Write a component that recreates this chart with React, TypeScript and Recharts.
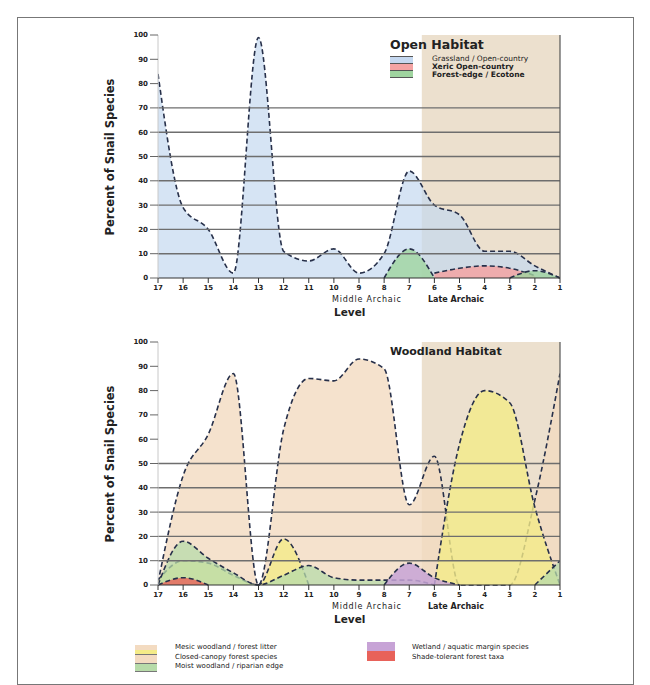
import React from 'react';
import { ComposedChart, Area, XAxis, YAxis, ReferenceArea, ReferenceLine } from 'recharts';

const levels = [17, 16, 15, 14, 13, 12, 11, 10, 9, 8, 7, 6, 5, 4, 3, 2, 1];
const yTicks = [0, 10, 20, 30, 40, 50, 60, 70, 80, 90, 100];

// Open habitat series (levels 17 -> 1)
const openGrassland = [84, 29, 20, 2, 99, 11, 7, 12, 2, 10, 44, 30, 26, 11, 11, 5, 0];
const openXeric = [null, null, null, null, null, null, null, null, null, null, null, 2, 4, 5, 4, 1, null];
const openEdge = [null, null, null, null, null, null, null, null, null, 0, 12, 0, null, null, 0, 3, 0];

// Woodland habitat series (levels 17 -> 1)
const woodTan = [1, 45, 62, 87, 0, 64, 85, 84, 93, 89, 33, 53, 0, 0, 0, 35, 87];
const woodYellow = [2, 10, 9, 4, 0, 19, 0, null, null, null, null, 0, 58, 80, 75, 32, 0];
const woodGreen = [0, 18, 11, 5, 0, 4, 8, 3, 2, 2, 2, 0, null, null, null, 0, 10];
const woodPurple = [null, null, null, null, null, null, null, null, null, 0, 9, 3, 0, null, null, null, null];
const woodRed = [0, 3, 0, null, null, null, null, null, null, null, null, null, null, null, null, null, null];

const openGrid = [10, 20, 30, 40, 50, 60, 70];
const woodGrid = [10, 20, 30, 40, 50];

const openData = levels.map((lv, i) => ({ level: lv, grass: openGrassland[i], xeric: openXeric[i], edge: openEdge[i] }));
const woodData = levels.map((lv, i) => ({
  level: lv, tan: woodTan[i], yellow: woodYellow[i], green: woodGreen[i], purple: woodPurple[i], red: woodRed[i],
}));

const STROKE = '#27304a';
const DASH = '5 3';
const FONT = 'DejaVu Sans, Arial, sans-serif';

const tickStyle = { fontSize: 7, fill: '#222', fontFamily: FONT, fontWeight: 700 };

function Panel({ data, series, grid }: { data: any[]; series: { key: string; fill: string; op: number }[]; grid: number[] }) {
  return (
    <ComposedChart width={650} height={330} data={data} margin={{ top: 35, right: 90, bottom: 22, left: 100 }}>
      <XAxis
        type="number" dataKey="level" domain={[1, 17]} reversed ticks={levels} interval={0}
        tick={tickStyle} tickSize={5} stroke="#333" height={30} allowDataOverflow
      />
      <YAxis
        type="number" domain={[0, 100]} ticks={yTicks} interval={0} width={58}
        tick={tickStyle} tickSize={8} stroke="#c8c8c8" tickLine={{ stroke: '#666' }}
      />
      <ReferenceArea x1={6.5} x2={1} y1={0} y2={100} fill="#e9dac6" fillOpacity={0.85} stroke="none" ifOverflow="hidden" />
      {grid.map((g) => (
        <ReferenceLine key={g} y={g} stroke="#6e6e6e" strokeWidth={1.4} />
      ))}
      <ReferenceLine x={1} stroke="#555" strokeWidth={1.2} />
      {series.map((s) => (
        <Area
          key={s.key} type="monotone" dataKey={s.key} fill={s.fill} fillOpacity={s.op}
          stroke={STROKE} strokeWidth={1.6} strokeDasharray={DASH} isAnimationActive={false}
          connectNulls={false} dot={false} activeDot={false}
        />
      ))}
    </ComposedChart>
  );
}

const abs = (x: number, y: number, extra: React.CSSProperties = {}): React.CSSProperties => ({
  position: 'absolute', left: x, top: y, fontFamily: FONT, color: '#222', whiteSpace: 'nowrap', ...extra,
});

function AxisTexts({ top }: { top: number }) {
  return (
    <>
      <div style={abs(110, top + 157, { transform: 'translate(-50%,-50%) rotate(-90deg)', fontSize: 11.5, fontWeight: 700 })}>
        Percent of Snail Species
      </div>
      <div style={abs(332, top + 295, { fontSize: 8, letterSpacing: 0.8 })}>Middle Archaic</div>
      <div style={abs(428, top + 295, { fontSize: 8, fontWeight: 700 })}>Late Archaic</div>
      <div style={abs(334, top + 306, { fontSize: 10.5, fontWeight: 700 })}>Level</div>
    </>
  );
}

export default function App() {
  return (
    <div style={{ position: 'absolute', left: 0, top: 0, width: 650, height: 685, background: '#fff' }}>
      <div style={{ position: 'absolute', left: 17, top: 17, width: 615, height: 666, border: '1px solid #777' }} />
      <div style={{ position: 'absolute', left: 0, top: 0 }}>
        <Panel
          data={openData}
          grid={openGrid}
          series={[
            { key: 'grass', fill: '#c5d8f0', op: 0.7 },
            { key: 'xeric', fill: '#f3a3a3', op: 0.85 },
            { key: 'edge', fill: '#9fd49f', op: 0.8 },
          ]}
        />
      </div>
      <div style={{ position: 'absolute', left: 0, top: 307 }}>
        <Panel
          data={woodData}
          grid={woodGrid}
          series={[
            { key: 'tan', fill: '#f3dbc1', op: 0.8 },
            { key: 'yellow', fill: '#f4eb88', op: 0.8 },
            { key: 'green', fill: '#b7dba9', op: 0.75 },
            { key: 'purple', fill: '#c7a3d6', op: 0.85 },
            { key: 'red', fill: '#e8625a', op: 0.8 },
          ]}
        />
      </div>
      <AxisTexts top={0} />
      <AxisTexts top={307} />

      {/* Open habitat legend */}
      <div style={abs(390, 37, { fontSize: 12.5, fontWeight: 700 })}>Open Habitat</div>
      <div style={abs(390, 56, { width: 23, height: 6, background: '#c5d8f0', borderTop: '1px solid #555' })} />
      <div style={abs(390, 63, { width: 23, height: 6, background: '#f3a3a3', borderTop: '1px solid #555' })} />
      <div style={abs(390, 70, { width: 23, height: 6, background: '#9fd49f', borderTop: '1px solid #555', borderBottom: '1px solid #555' })} />
      <div style={abs(432, 54, { fontSize: 7.5 })}>Grassland / Open-country</div>
      <div style={abs(432, 62, { fontSize: 7.5, fontWeight: 700 })}>Xeric Open-country</div>
      <div style={abs(432, 70, { fontSize: 7.5, fontWeight: 700 })}>Forest-edge / Ecotone</div>

      {/* Woodland habitat title */}
      <div style={abs(390, 345, { fontSize: 11, fontWeight: 700 })}>Woodland Habitat</div>

      {/* Woodland legends */}
      <div style={abs(135, 645, { width: 22, height: 9, background: '#f4eb88' })} />
      <div style={abs(135, 645, { width: 22, height: 5, background: '#f3dbc1' })} />
      <div style={abs(135, 654, { width: 22, height: 8, background: '#f3dbc1', borderTop: '1px solid #777' })} />
      <div style={abs(135, 663, { width: 22, height: 7, background: '#b7dba9', borderTop: '1px solid #777', borderBottom: '1px solid #777' })} />
      <div style={abs(175, 643, { fontSize: 7, lineHeight: '9.5px' })}>
        Mesic woodland / forest litter<br />Closed-canopy forest species<br />Moist woodland / riparian edge
      </div>
      <div style={abs(367, 642, { width: 28, height: 9, background: '#c7a3d6' })} />
      <div style={abs(367, 651, { width: 28, height: 10, background: '#e8625a' })} />
      <div style={abs(412, 643, { fontSize: 7, lineHeight: '9.5px' })}>
        Wetland / aquatic margin species<br />Shade-tolerant forest taxa
      </div>
    </div>
  );
}
